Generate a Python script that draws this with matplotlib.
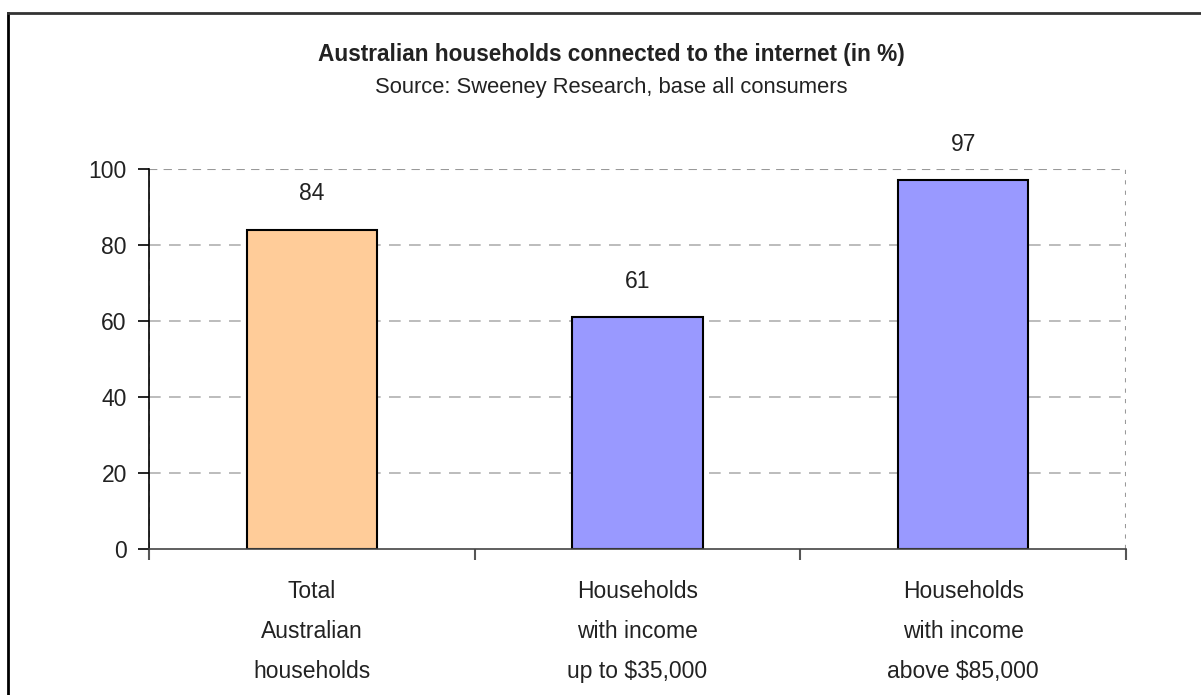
import matplotlib
matplotlib.use("Agg")
import matplotlib.pyplot as plt
from matplotlib.lines import Line2D

# Datos del gráfico
categorias = ["Total\nAustralian\nhouseholds",
              "Households\nwith income\nup to $35,000",
              "Households\nwith income\nabove $85,000"]
valores = [84, 61, 97]
colores = ["#FFCC99", "#9999FF", "#9999FF"]
ticks_y = [0, 20, 40, 60, 80, 100]

plt.rcParams['font.family'] = ['Liberation Sans', 'DejaVu Sans']

fig = plt.figure(figsize=(12.01, 6.95), dpi=100)
ax = fig.add_axes([0.1241, 0.2101, 0.8135, 0.5468])

x = list(range(len(valores)))
ax.bar(x, valores, width=0.4, color=colores, edgecolor="black", linewidth=1.5, zorder=3)

# Etiquetas de valor sobre las barras
for xi, v in zip(x, valores):
    ax.annotate(str(v), (xi, v), xytext=(0, 26), textcoords="offset points",
                ha="center", va="center", fontsize=16.5, color="#222222")

ax.set_xlim(-0.5, 2.5)
ax.set_ylim(0, 100)
ax.set_yticks(ticks_y)
ax.set_yticklabels([str(t) for t in ticks_y], fontsize=16.5, color="#222222")

# Rejilla horizontal discontinua
for t in ticks_y[1:-1]:
    ax.axhline(t, color="#b0b0b0", linestyle=(0, (7, 5)), linewidth=1.2, zorder=1)
ax.axhline(100, color="#999999", linestyle=(0, (4, 3)), linewidth=1.5, zorder=1)
ax.axvline(2.5, color="#999999", linestyle=(0, (2, 3)), linewidth=1.5, zorder=1)
ax.axvline(-0.5, color="#999999", linestyle=(0, (4, 3)), linewidth=1.2, zorder=1)

for s in ["top", "right"]:
    ax.spines[s].set_visible(False)
ax.spines["left"].set_color("black")
ax.spines["left"].set_linewidth(1.2)
ax.spines["bottom"].set_color("#444444")
ax.spines["bottom"].set_linewidth(1.2)
ax.spines["bottom"].set_zorder(4)

ax.tick_params(axis="y", direction="out", length=8, width=1.2, color="black", pad=8)

# Marcas del eje x en los límites de categoría
ax.set_xticks([-0.5, 0.5, 1.5, 2.5])
ax.set_xticklabels([])
ax.tick_params(axis="x", which="major", direction="out", length=8, width=1.5, color="#555555")
ax.set_xticks(x, minor=True)
ax.set_xticklabels(categorias, minor=True, fontsize=16.5, color="#222222", linespacing=1.97)
ax.tick_params(axis="x", which="minor", length=0, pad=22)

fig.text(0.5087, 1 - 55 / 695, "Australian households connected to the internet (in %)",
         ha="center", va="center", fontsize=16.3, fontweight="bold", color="#222222")
fig.text(0.5087, 1 - 88 / 695, "Source: Sweeney Research, base all consumers",
         ha="center", va="center", fontsize=15.8, color="#222222")

# Marco exterior
fig.add_artist(Line2D([7.5 / 1201, 7.5 / 1201], [0, 1 - 13 / 695], transform=fig.transFigure,
                      color="black", linewidth=2))
fig.add_artist(Line2D([7.5 / 1201, 1], [1 - 13 / 695, 1 - 13 / 695], transform=fig.transFigure,
                      color="#333333", linewidth=2))

fig.savefig("out.png", dpi=100)
